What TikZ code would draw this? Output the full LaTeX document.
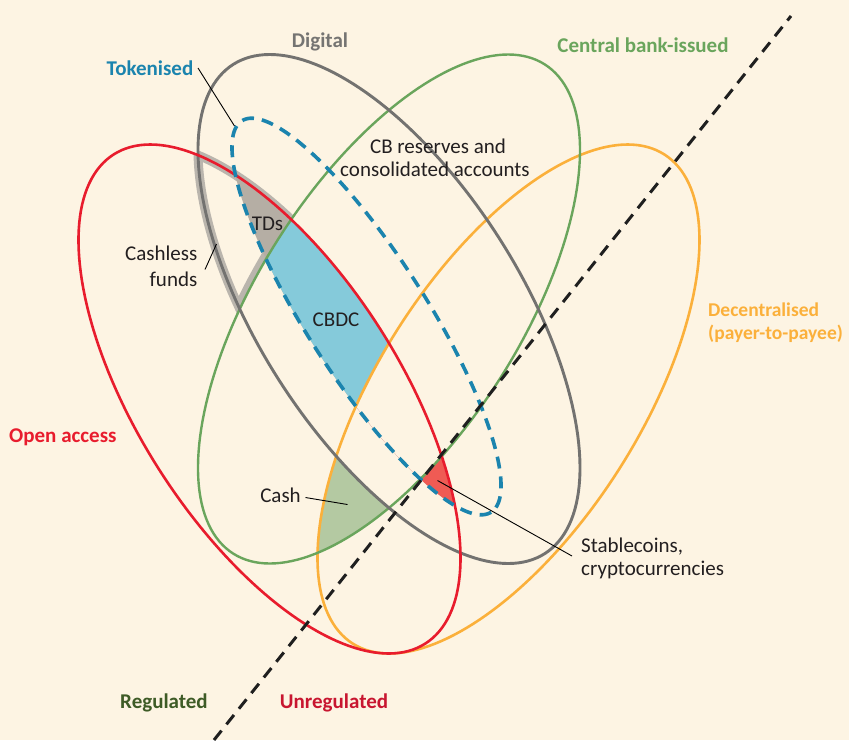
\documentclass[tikz,border=0pt]{standalone}
\usepackage{fontspec}
\setmainfont{Carlito}
\definecolor{bgc}{HTML}{FDF4E3}
\definecolor{redc}{HTML}{E81C2D}
\definecolor{grayc}{HTML}{737270}
\definecolor{greenc}{HTML}{6AA55C}
\definecolor{orangec}{HTML}{FBB03B}
\definecolor{bluec}{HTML}{1B84AE}
\definecolor{tdc}{HTML}{B5AEA4}
\definecolor{cbdcc}{HTML}{85CADA}
\definecolor{cashc}{HTML}{B4C9A2}
\definecolor{stablec}{HTML}{EF5B54}
\definecolor{haloc}{HTML}{BAB5AD}
\definecolor{regc}{HTML}{3E5B26}
\definecolor{unregc}{HTML}{C81630}
\definecolor{txtc}{HTML}{231F20}
\definecolor{digc}{HTML}{757472}
\newcommand{\ellpath}[5]{plot[domain=0:360,samples=181,variable=\x]({#1+#3*cos(\x)*cos(#5)-#4*sin(\x)*sin(#5)},{#2+#3*cos(\x)*sin(#5)+#4*sin(\x)*cos(#5)}) -- cycle}
\newcommand{\RedE}{\ellpath{269.5}{399}{290}{131}{57.5}}
\newcommand{\OrgE}{\ellpath{508.5}{399}{290}{131}{-57.5}}
\newcommand{\GryE}{\ellpath{389}{309}{290}{131}{57.5}}
\newcommand{\GrnE}{\ellpath{389}{309}{290}{131}{-57.5}}
\newcommand{\BluE}{\ellpath{366.5}{316.5}{232}{60}{57.5}}
\newcommand{\OuterR}{(-3000,-3000) -- (-3000,3000) -- (3000,3000) -- (3000,-3000) -- cycle}
\newcommand{\AllR}{(0,0) rectangle (849,740)}
\begin{document}
\begin{tikzpicture}[x=1pt,y=-1pt,
  lab/.style={font=\fontsize{21}{24}\selectfont,inner sep=0pt,text=txtc},
  blab/.style={font=\fontsize{21}{24}\selectfont\bfseries,inner sep=0pt},
  slab/.style={font=\fontsize{19.5}{24}\selectfont\bfseries,inner sep=0pt},
  ell/.style={line width=2.6pt,line join=round},
  halo/.style={draw=haloc,line width=9pt,line join=round},
  leader/.style={draw=black,line width=0.9pt}]
\useasboundingbox \AllR;
\fill[bgc] \AllR;
% halo of the cashless funds region
\begin{scope}
  \clip (150,100) rectangle (335,335);
  \begin{scope}\clip \RedE; \clip \OuterR \GrnE; \draw[halo] \GryE; \end{scope}
  \begin{scope}\clip \GryE; \clip \OuterR \GrnE; \draw[halo] \RedE; \end{scope}
  \begin{scope}\clip \RedE; \clip \GryE; \clip \OuterR \GrnE; \draw[halo,line width=13pt] \GrnE; \end{scope}
\end{scope}
% cash
\begin{scope}
  \clip \RedE; \clip \GrnE; \clip \OrgE;
  \fill[cashc] \AllR;
  \clip \GryE;
  \fill[bgc] \AllR;
\end{scope}
% tokenised regions
\begin{scope}
  \clip \RedE; \clip \BluE;
  \fill[tdc] \AllR;
  \begin{scope}\clip \GrnE; \fill[cbdcc] \AllR; \end{scope}
  \begin{scope}\clip \OrgE; \fill[stablec] \AllR; \clip \GrnE; \fill[bgc] \AllR; \end{scope}
\end{scope}
% ellipses
\draw[ell,draw=orangec] \OrgE;
\draw[ell,draw=greenc,line width=2.4pt] \GrnE;
\draw[ell,draw=grayc,line width=2.9pt] \GryE;
\draw[ell,draw=redc] \RedE;
\draw[draw=bluec,line width=3.6pt,dash pattern=on 12pt off 8pt] \BluE;
% regulated / unregulated divide
\coordinate (divA) at (214,740);
\coordinate (divB) at (791,16);
\draw[draw=black!88,line width=3pt,dash pattern=on 12pt off 8pt] (divA) -- (divB);
% labels
\node[blab,text=digc,anchor=base] (digital) at (320,47) {Digital};
\node[blab,text=bluec,anchor=base] (tokenised) at (150,75) {Tokenised};
\node[blab,text=greenc,anchor=base] (cbissued) at (643,52) {Central bank-issued};
\node[slab,text=orangec,anchor=base west] (decent1) at (708,316) {Decentralised};
\node[slab,text=orangec,anchor=base west] (decent2) at (708,339.5) {(payer-to-payee)};
\node[blab,text=redc,anchor=base west] (open) at (9,442.5) {Open access};
\node[blab,text=regc,anchor=base] (reg) at (164,708) {Regulated};
\node[blab,text=unregc,anchor=base] (unreg) at (334,708) {Unregulated};
\node[lab,anchor=base] (cbres1) at (438,153) {CB reserves and};
\node[lab,anchor=base] (cbres2) at (435,176.5) {consolidated accounts};
\node[lab,anchor=base] (tds) at (267.5,230) {TDs};
\node[lab,anchor=base] (cbdc) at (336,326.5) {CBDC};
\node[lab,anchor=base east] (cashless1) at (197.5,260.5) {Cashless};
\node[lab,anchor=base east] (cashless2) at (197.5,286.5) {funds};
\node[lab,anchor=base] (cash) at (280.5,502.5) {Cash};
\node[lab,anchor=base west] (stable1) at (581,552) {Stablecoins,};
\node[lab,anchor=base west] (stable2) at (581,575.5) {cryptocurrencies};
% leader lines
\coordinate (tokA) at (198,68);
\coordinate (tokB) at (234.5,126);
\coordinate (clA) at (205,269.5);
\coordinate (clB) at (216.5,244);
\coordinate (cashA) at (305.5,497.5);
\coordinate (cashB) at (347.5,504.5);
\coordinate (stA) at (437.5,480.5);
\coordinate (stB) at (572,556);
\draw[leader] (tokA) -- (tokB);
\draw[leader] (clA) -- (clB);
\draw[leader] (cashA) -- (cashB);
\draw[leader] (stA) -- (stB);
\end{tikzpicture}
\end{document}
